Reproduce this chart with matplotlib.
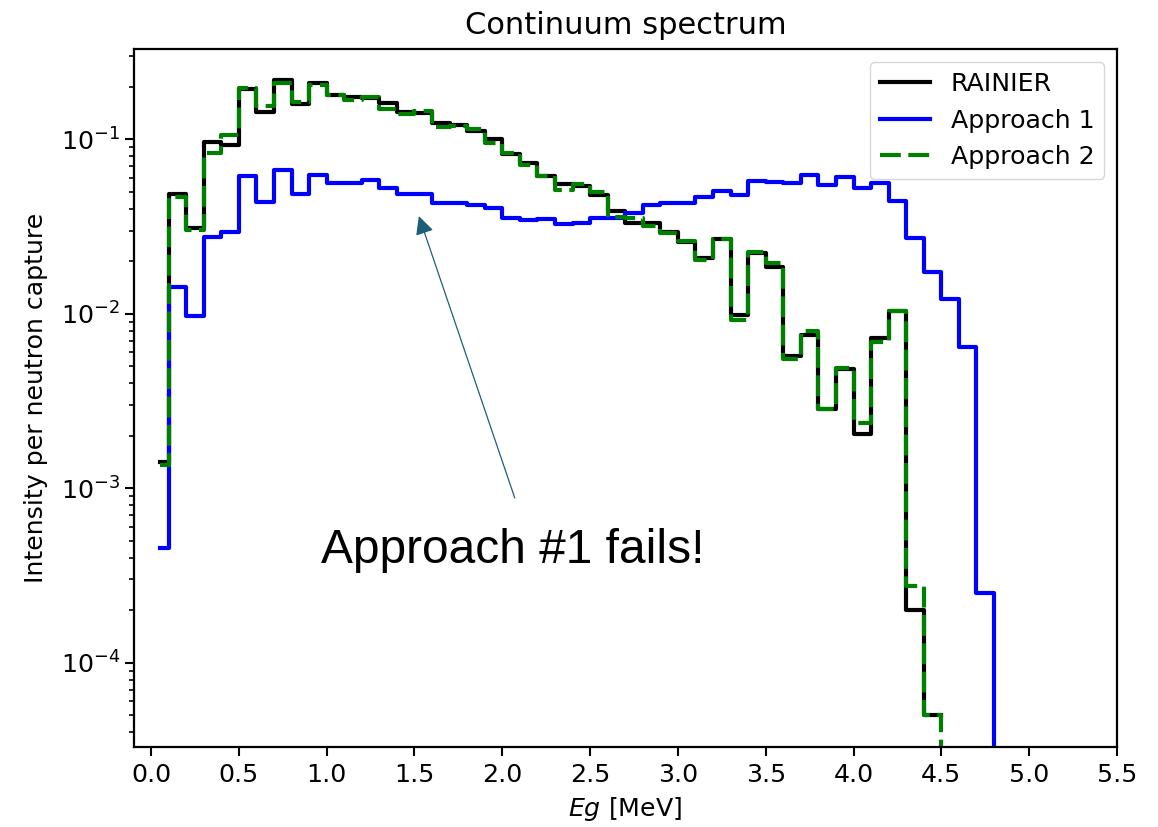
import numpy as np
import matplotlib
matplotlib.use('Agg')
import matplotlib.pyplot as plt

# Bin layout: first half bin 0.05-0.1 MeV, then 0.1 MeV wide bins
first_edge = 0.05
bin_width = 0.1

# Intensity per bin
rainier = [1.42e-3, 0.0484, 0.0309, 0.0969, 0.0928, 0.194, 0.144, 0.219, 0.159, 0.209,
           0.179, 0.175, 0.172, 0.161, 0.143, 0.142, 0.124, 0.121, 0.111, 0.100,
           0.0824, 0.0734, 0.0616, 0.0554, 0.0540, 0.0480, 0.0390, 0.0333, 0.0330, 0.0293,
           0.0259, 0.0210, 0.0267, 0.00984, 0.0224, 0.0185, 0.00573, 0.00757, 0.00284, 0.00481,
           0.00205, 0.00724, 0.0104, 2.01e-4, 5.0e-5]
approach1 = [4.53e-4, 0.0142, 0.0097, 0.0277, 0.0295, 0.0616, 0.0438, 0.0667, 0.0487, 0.0624,
             0.0564, 0.0564, 0.0585, 0.0524, 0.0487, 0.0487, 0.0430, 0.0430, 0.0420, 0.0406,
             0.0352, 0.0345, 0.0347, 0.0327, 0.0333, 0.0355, 0.0352, 0.0377, 0.0418, 0.0430,
             0.0430, 0.0466, 0.0507, 0.0480, 0.0580, 0.0567, 0.0565, 0.0624, 0.0547, 0.0605,
             0.0524, 0.0560, 0.0440, 0.0272, 0.0173, 0.0122, 0.00649, 2.50e-4]
approach2 = [1.35e-3, 0.0470, 0.0303, 0.0830, 0.106, 0.196, 0.155, 0.211, 0.164, 0.204,
             0.180, 0.168, 0.175, 0.150, 0.140, 0.146, 0.118, 0.119, 0.114, 0.095,
             0.083, 0.0713, 0.0620, 0.0512, 0.0555, 0.0501, 0.0360, 0.0353, 0.0320, 0.0290,
             0.0262, 0.0202, 0.0270, 0.0092, 0.0226, 0.0195, 0.00548, 0.0080, 0.00284, 0.0049,
             0.00236, 0.0069, 0.0104, 2.75e-4, 5.0e-5]
below_axis = 1e-7  # spectra that fall to zero after the last bin


def edges_for(n):
    return np.concatenate([[first_edge], np.round(bin_width * np.arange(1, n + 1), 2)])


def step_series(values, drop):
    x = edges_for(len(values))
    y = list(values) + [below_axis if drop else values[-1]]
    return x, y


plt.rcParams['font.size'] = 18.2
fig = plt.figure(figsize=(11.58, 8.27), dpi=100)
fig.subplots_adjust(left=0.1157, right=0.9646, bottom=0.0971, top=0.9404)
ax = fig.add_subplot(111)

x, y = step_series(rainier, drop=False)
ax.step(x, y, where='post', color='k', lw=3, label='RAINIER')
x, y = step_series(approach1, drop=True)
ax.step(x, y, where='post', color='b', lw=3, label='Approach 1')
x, y = step_series(approach2, drop=True)
ax.step(x, y, where='post', color='g', lw=3, dashes=(5.0, 1.8), label='Approach 2')

ax.set_yscale('log')
ax.set_xlim(-0.097, 5.5)
ax.set_ylim(3.3e-5, 0.328)
ax.set_xticks(np.arange(0, 5.51, 0.5))

for side in ax.spines.values():
    side.set_linewidth(1.6)
ax.tick_params(which='major', length=6.5, width=1.5)
ax.tick_params(axis='x', which='major', pad=5)
ax.tick_params(which='minor', length=3.8, width=1.2)

ax.set_title('Continuum spectrum', fontsize=22, pad=11)
ax.set_xlabel('$Eg$ [MeV]', labelpad=6)
ax.set_ylabel('Intensity per neutron capture', labelpad=9)
ax.legend(loc='upper right')

# Annotation pointing at approach 1
ax.annotate('', xy=(1.525, 0.0363), xytext=(2.071, 8.8e-4),
            arrowprops=dict(arrowstyle='-|>', color='#1d5f7a', lw=0.9,
                            mutation_scale=28, shrinkA=0, shrinkB=0))
ax.text(2.057, 3.73e-4, 'Approach #1 fails!', fontsize=34.5, family='Liberation Sans',
        ha='center', va='baseline')

plt.savefig('out.png', dpi=100)
plt.close()
